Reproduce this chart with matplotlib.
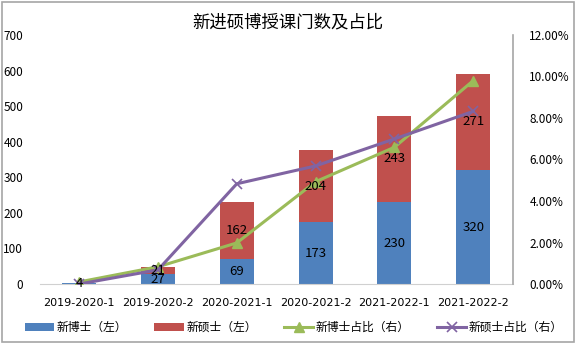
import numpy as np
import matplotlib.pyplot as plt
from matplotlib.patches import Rectangle
from matplotlib.ticker import FuncFormatter

plt.rcParams['font.family'] = ['Noto Sans CJK SC', 'DejaVu Sans']

terms = ["2019-2020-1", "2019-2020-2", "2020-2021-1", "2020-2021-2", "2021-2022-1", "2021-2022-2"]
phd = [4, 27, 69, 173, 230, 320]
master = [0, 21, 162, 204, 243, 271]
phd_ratio = [0.10, 0.83, 1.98, 4.93, 6.59, 9.80]
master_ratio = [0.0, 0.68, 4.83, 5.69, 6.99, 8.32]

blue = "#4F81BD"
red = "#C0504D"
green = "#9BBB59"
purple = "#8064A2"
grey = "#A6A6A6"

fig = plt.figure(figsize=(5.76, 3.43), dpi=100)
fig.patches.append(Rectangle((0.003, 0.004), 0.993, 0.99, transform=fig.transFigure,
                             fill=False, edgecolor=grey, linewidth=1.2))
ax = fig.add_axes([0.069, 0.172, 0.821, 0.726])
x = np.arange(len(terms))
w = 0.43

b1 = ax.bar(x, phd, w, color=blue, label="新博士（左）")
b2 = ax.bar(x, master, w, bottom=phd, color=red, label="新硕士（左）")

ax.set_ylim(0, 700)
ax.set_yticks(range(0, 701, 100))
ax.set_xlim(-0.5, len(terms) - 0.5)
ax.set_xticks(x)
ax.set_xticklabels(terms, fontsize=8, family=['DejaVu Sans'])
ax.tick_params(axis="y", labelsize=8.5, length=0, pad=12)
ax.tick_params(axis="x", length=0, pad=10)
for s in ["top", "left", "right"]:
    ax.spines[s].set_visible(False)
ax.spines["bottom"].set_color("#D0D0D0")

ax2 = ax.twinx()
l1, = ax2.plot(x, phd_ratio, color=green, linewidth=2.2, marker="^", markersize=7, label="新博士占比（右）")
l2, = ax2.plot(x, master_ratio, color=purple, linewidth=2.2, marker="x", markersize=7,
               markeredgewidth=1.2, label="新硕士占比（右）")
ax2.set_ylim(0, 12)
ax2.set_yticks(range(0, 13, 2))
ax2.yaxis.set_major_formatter(FuncFormatter(lambda v, p: "%.2f%%" % v))
ax2.tick_params(axis="y", labelsize=8.5, length=0, pad=12)
for s in ["top", "left", "bottom"]:
    ax2.spines[s].set_visible(False)
ax2.spines["right"].set_color(grey)
ax2.spines["right"].set_linewidth(1.2)

# data labels drawn on the top axes so the lines don't hide them
for i in range(len(terms)):
    ax2.text(x[i], phd[i] / 2, str(phd[i]), ha="center", va="center", fontsize=9.5,
             color="black", transform=ax.transData, zorder=10)
    if master[i] > 0:
        ax2.text(x[i], phd[i] + master[i] / 2, str(master[i]), ha="center", va="center",
                 fontsize=9.5, color="black", transform=ax.transData, zorder=10)

fig.text(0.5, 0.935, "新进硕博授课门数及占比", ha="center", va="center", fontsize=12.5)

fig.legend(handles=[b1, b2, l1, l2], loc="center", bbox_to_anchor=(0.51, 0.045), ncol=4,
           frameon=False, fontsize=8.5, handlelength=2.5, handleheight=0.7,
           columnspacing=2.3, handletextpad=0.2)

fig.savefig("out.png", dpi=100)
